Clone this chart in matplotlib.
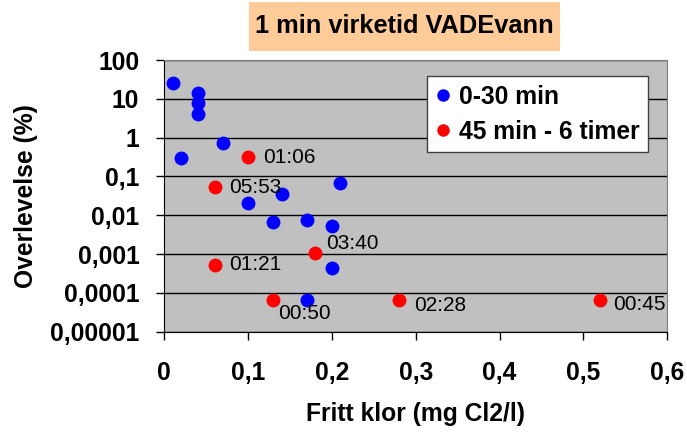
import matplotlib
matplotlib.use("Agg")
import matplotlib.pyplot as plt
from matplotlib.patches import Rectangle
from matplotlib.ticker import FixedLocator, FixedFormatter

plt.rcParams["font.family"] = ["Liberation Sans", "DejaVu Sans"]

# 0-30 min series
blue_x = [0.01, 0.04, 0.04, 0.04, 0.02, 0.07, 0.10, 0.14, 0.13, 0.17, 0.20, 0.21, 0.20, 0.17]
blue_y = [25, 14, 8, 4.1, 0.29, 0.74, 0.021, 0.035, 0.0069, 0.0076, 0.0053, 0.068, 0.00044, 0.000066]

# 45 min - 6 timer series, with time labels
red_x = [0.10, 0.06, 0.06, 0.13, 0.18, 0.28, 0.52]
red_y = [0.31, 0.052, 0.00053, 0.000066, 0.00105, 0.000066, 0.000065]
red_labels = ["01:06", "05:53", "01:21", "00:50", "03:40", "02:28", "00:45"]

x_ticks = [0, 0.1, 0.2, 0.3, 0.4, 0.5, 0.6]
x_ticklabels = ["0", "0,1", "0,2", "0,3", "0,4", "0,5", "0,6"]
y_ticks = [1e-5, 1e-4, 1e-3, 1e-2, 1e-1, 1, 10, 100]
y_ticklabels = ["0,00001", "0,0001", "0,001", "0,01", "0,1", "1", "10", "100"]

W, H = 687, 432
fig = plt.figure(figsize=(W / 100, H / 100), dpi=100)
ax = fig.add_axes([164.3 / W, 1 - 331.7 / H, 503 / W, 271.7 / H])
ax.set_facecolor("#C0C0C0")

ax.plot(blue_x, blue_y, "o", color="#0000FF", markersize=10, markeredgewidth=0,
        label="0-30 min", zorder=3)
ax.plot(red_x, red_y, "o", color="#FF0000", markersize=10, markeredgewidth=0,
        label="45 min - 6 timer", zorder=3)

# label offsets in pixels (dx, dy)
offsets = [(15, 0), (15, 0), (15, 0), (5, -14), (11, 10), (15, -6), (13, -4)]
for x, y, s, (dx, dy) in zip(red_x, red_y, red_labels, offsets):
    ax.annotate(s, (x, y), xytext=(dx, dy), textcoords="offset pixels",
                ha="left", va="center", fontsize=15, color="black", zorder=4)

ax.set_yscale("log")
ax.set_xlim(0, 0.6)
ax.set_ylim(1e-5, 100)
ax.xaxis.set_major_locator(FixedLocator(x_ticks))
ax.xaxis.set_major_formatter(FixedFormatter(x_ticklabels))
ax.yaxis.set_major_locator(FixedLocator(y_ticks))
ax.yaxis.set_major_formatter(FixedFormatter(y_ticklabels))
ax.yaxis.set_minor_locator(FixedLocator([]))
ax.tick_params(axis="both", which="major", direction="out", length=6,
               width=1, labelsize=17.7)
ax.tick_params(axis="y", pad=12)
ax.tick_params(axis="x", pad=15)
for lab in ax.get_xticklabels() + ax.get_yticklabels():
    lab.set_fontweight("bold")

ax.yaxis.grid(True, color="black", linewidth=1)
ax.set_axisbelow(True)
ax.spines["left"].set_color("black")
ax.spines["bottom"].set_color("black")
ax.spines["top"].set_color("#808080")
ax.spines["right"].set_color("#808080")

ax.set_xlabel("Fritt klor (mg Cl2/l)", fontsize=17.7, fontweight="bold", labelpad=12)
ax.set_ylabel("Overlevelse (%)", fontsize=17.7, fontweight="bold", labelpad=9)

leg = fig.legend(loc="upper left", bbox_to_anchor=(427.3 / W, 1 - 76 / H),
                 borderaxespad=0, fontsize=17.7, frameon=True, fancybox=False,
                 framealpha=1, handlelength=0.6, handletextpad=0.35,
                 borderpad=0.35, labelspacing=0.45, markerscale=0.9)
leg.get_frame().set_edgecolor("#404040")
leg.get_frame().set_linewidth(1)
for t in leg.get_texts():
    t.set_fontweight("bold")

# title box
fig.patches.append(Rectangle((249 / W, 1 - 50.7 / H), 311 / W, 49 / H,
                             transform=fig.transFigure, facecolor="#FFCC99",
                             edgecolor="none"))
fig.text(404.5 / W, 1 - 26 / H, "1 min virketid VADEvann", ha="center",
         va="center", fontsize=18.3, fontweight="bold")

fig.savefig("out.png", dpi=100)
